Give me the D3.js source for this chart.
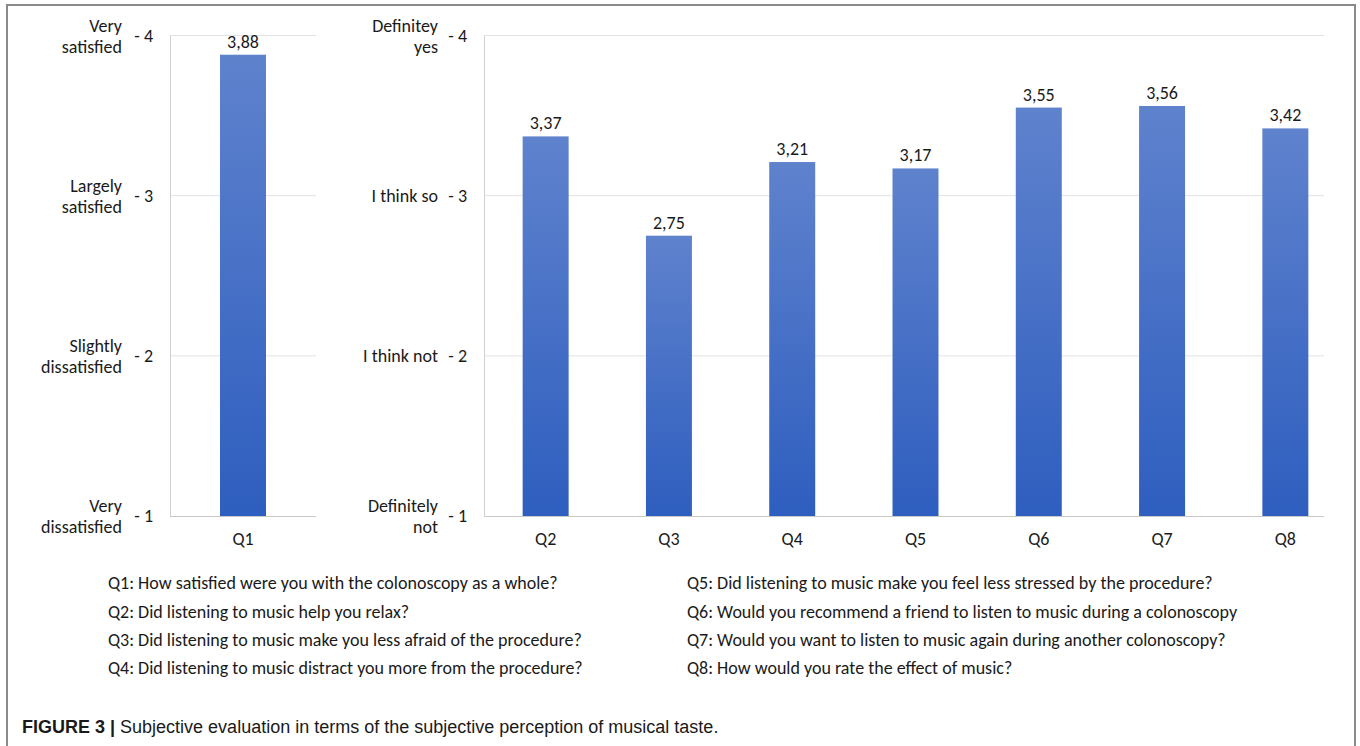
<!DOCTYPE html>
<html>
<head>
<meta charset="utf-8">
<script src="https://cdn.jsdelivr.net/npm/d3@7"></script>
<style>
  body { margin: 0; background: #fff; }
  svg text { font-family: Carlito, Lato, "Open Sans", sans-serif; fill: #1a1a1a; }
  .caption text { font-family: "Liberation Sans Narrow", "Arial Narrow", "Liberation Sans", sans-serif; }
</style>
</head>
<body>
<svg id="chart" width="1360" height="746"></svg>
<script>
// data
var q1Categories = ['Q1'];
var q1Values = [3.88];
var otherCategories = ['Q2', 'Q3', 'Q4', 'Q5', 'Q6', 'Q7', 'Q8'];
var otherValues = [3.37, 2.75, 3.21, 3.17, 3.55, 3.56, 3.42];
var tickValues = [1, 2, 3, 4];
var leftTickLabels = [['Very', 'dissatisfied'], ['Slightly', 'dissatisfied'], ['Largely', 'satisfied'], ['Very', 'satisfied']];
var rightTickLabels = [['Definitely', 'not'], ['I think not'], ['I think so'], ['Definitey', 'yes']];
var legendLeft = [
	'Q1: How satisfied were you with the colonoscopy as a whole?',
	'Q2: Did listening to music help you relax?',
	'Q3: Did listening to music make you less afraid of the procedure?',
	'Q4: Did listening to music distract you more from the procedure?'
];
var legendRight = [
	'Q5: Did listening to music make you feel less stressed by the procedure?',
	'Q6: Would you recommend a friend to listen to music during a colonoscopy',
	'Q7: Would you want to listen to music again during another colonoscopy?',
	'Q8: How would you rate the effect of music?'
];
var captionBold = 'FIGURE 3 |';
var captionText = ' Subjective evaluation in terms of the subjective perception of musical taste.';

var svg = d3.select('#chart');
var fs = 18;
var fmt = function(v) { return d3.format('.2f')(v).replace('.', ','); };

// bar gradient
var grad = svg.append('defs').append('linearGradient')
	.attr('id', 'barGrad').attr('x1', 0).attr('y1', 0).attr('x2', 0).attr('y2', 1);
grad.append('stop').attr('offset', '0%').attr('stop-color', '#5f82cd');
grad.append('stop').attr('offset', '100%').attr('stop-color', '#2e5ebf');

// figure frame (open at bottom)
svg.append('path')
	.attr('d', 'M7,746 V5 H1355 V746')
	.attr('fill', 'none').attr('stroke', '#8a8a8a').attr('stroke-width', 2);

var y = d3.scaleLinear().domain([1, 4]).range([516, 35.5]);

function panel(cats, vals, x0, gridEnd, xRange, padding, tickLabels, labelGap) {
	var x = d3.scaleBand().domain(cats).range(xRange).paddingInner(padding).paddingOuter(padding / 2);
	var g = svg.append('g');

	// gridlines
	g.selectAll('.grid').data(tickValues.slice(1)).enter().append('line')
		.attr('x1', x0).attr('x2', gridEnd)
		.attr('y1', function(d) { return y(d); }).attr('y2', function(d) { return y(d); })
		.attr('stroke', '#e3e3e3').attr('stroke-width', 1);

	// axis lines
	g.append('line').attr('x1', x0 + 0.5).attr('x2', x0 + 0.5).attr('y1', y(4)).attr('y2', y(1))
		.attr('stroke', '#d0d0d0');
	g.append('line').attr('x1', x0).attr('x2', gridEnd).attr('y1', y(1) + 0.5).attr('y2', y(1) + 0.5)
		.attr('stroke', '#c8c8c8');

	// bars
	g.selectAll('.bar').data(vals).enter().append('rect')
		.attr('x', function(d, i) { return x(cats[i]); })
		.attr('width', x.bandwidth())
		.attr('y', function(d) { return y(d); })
		.attr('height', function(d) { return y(1) - y(d); })
		.attr('fill', 'url(#barGrad)');

	// value labels
	g.selectAll('.val').data(vals).enter().append('text')
		.attr('x', function(d, i) { return x(cats[i]) + x.bandwidth() / 2; })
		.attr('y', function(d) { return y(d) - 7; })
		.attr('text-anchor', 'middle').attr('font-size', fs)
		.text(fmt);

	// category labels
	g.selectAll('.cat').data(cats).enter().append('text')
		.attr('x', function(d) { return x(d) + x.bandwidth() / 2; })
		.attr('y', 545)
		.attr('text-anchor', 'middle').attr('font-size', fs)
		.text(function(d) { return d; });

	// y axis numbers
	var ax = g.append('g').attr('transform', 'translate(' + x0 + ',0)')
		.call(d3.axisLeft(y).tickValues(tickValues).tickSize(0).tickPadding(17)
			.tickFormat(function(d) { return '-  ' + d; }));
	ax.select('.domain').remove();
	ax.selectAll('text').attr('font-size', fs).attr('fill', '#1a1a1a')
		.style('font-family', 'Carlito, Lato, "Open Sans", sans-serif');

	// y axis word labels
	g.selectAll('.ylab').data(tickValues).enter().append('text')
		.attr('text-anchor', 'end').attr('font-size', fs)
		.attr('x', x0 - labelGap)
		.attr('y', function(d) { return y(d); })
		.each(function(d, i) {
			var lines = tickLabels[i];
			var t = d3.select(this);
			lines.forEach(function(s, j) {
				var off = lines.length === 1 ? 0 : (j === 0 ? -10 : 11);
				t.append('tspan').attr('x', x0 - labelGap).attr('y', y(d) + off)
					.attr('dy', '0.35em').text(s);
			});
		});
}

panel(q1Categories, q1Values, 170, 316, [170, 316], 0.685, leftTickLabels, 48);
panel(otherCategories, otherValues, 484, 1324, [484, 1347], 0.627, rightTickLabels, 46);

// legend
var legend = svg.append('g');
var rowY = d3.scalePoint().domain(d3.range(4)).range([583, 668]);
legend.selectAll('.l').data(legendLeft).enter().append('text')
	.attr('x', 108).attr('y', function(d, i) { return rowY(i); }).attr('dy', '0.35em')
	.attr('font-size', fs).text(function(d) { return d; });
legend.selectAll('.r').data(legendRight).enter().append('text')
	.attr('x', 687).attr('y', function(d, i) { return rowY(i); }).attr('dy', '0.35em')
	.attr('font-size', fs).text(function(d) { return d; });

// caption
var cap = svg.append('g').attr('class', 'caption').append('text')
	.attr('x', 22).attr('y', 733).attr('font-size', 18);
cap.append('tspan').attr('font-weight', 'bold').text(captionBold);
cap.append('tspan').text(captionText);
</script>
</body>
</html>
